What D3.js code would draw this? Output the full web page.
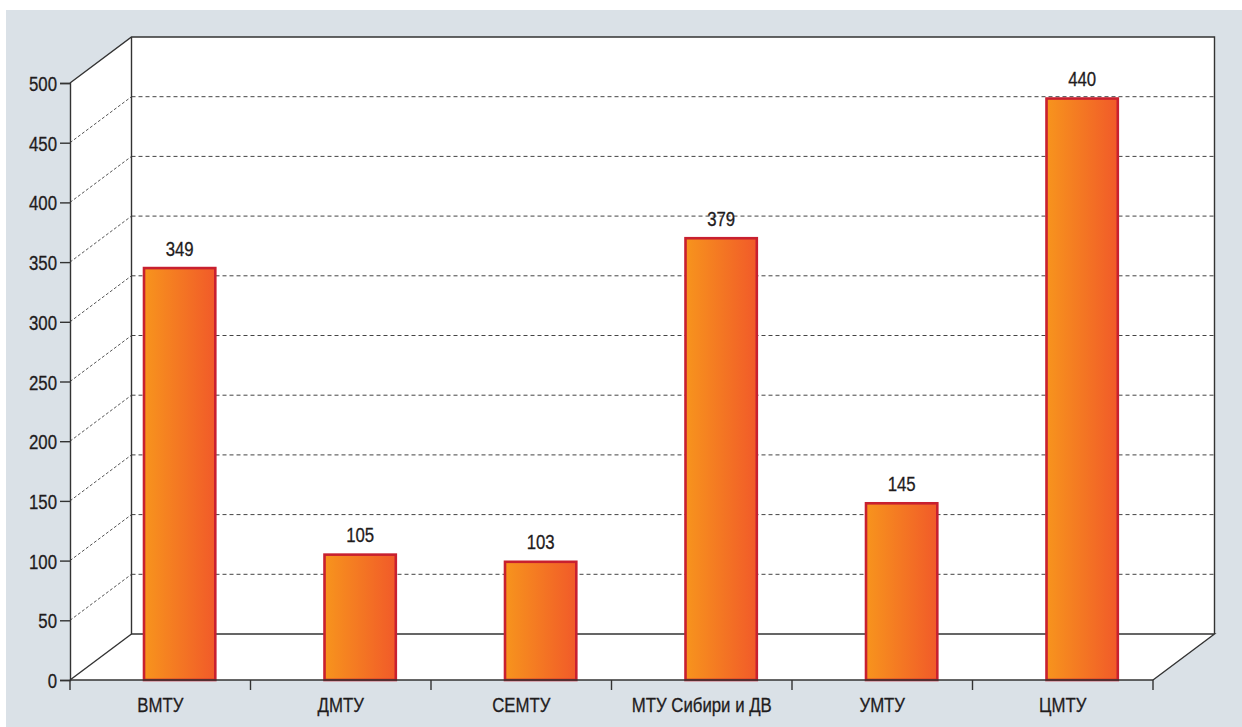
<!DOCTYPE html>
<html><head><meta charset="utf-8">
<script src="https://cdn.jsdelivr.net/npm/d3@7"></script>
<style>
html,body{margin:0;padding:0;background:#fff;}
text{font-family:"Liberation Sans","Arial",sans-serif;fill:#1f1c1d;stroke:#1f1c1d;stroke-width:0.3px;}
</style></head>
<body><svg id="c" width="1242" height="727"></svg>
<script>
// Data
const categories = ["ВМТУ","ДМТУ","СЕМТУ","МТУ Сибири и ДВ","УМТУ","ЦМТУ"];
const barValues = [345,105,99,370,148,487];      // bar heights
const printedValues = [349,105,103,379,145,440]; // value labels as printed
const yTicks = [0,50,100,150,200,250,300,350,400,450,500];

const svg = d3.select("#c");
const W = 1242, H = 727;
const x0 = 70, x1 = 1153, yBot = 680, yTop = 83;
const dx = 61.5, dy = -46;
const SX = 0.8, FS = 21;

const y = d3.scaleLinear().domain([0,500]).range([yBot,yTop]);
const x = d3.scaleBand().domain(categories).range([x0,x1]).padding(0);
const bw = x.bandwidth();

// background
svg.append("rect").attr("x",6).attr("y",10).attr("width",W-6).attr("height",H-10).attr("fill","#dae1e7");

const defs = svg.append("defs");
const g = defs.append("linearGradient").attr("id","barGrad").attr("x1","0").attr("x2","1").attr("y1","0").attr("y2","0");
g.append("stop").attr("offset","0%").attr("stop-color","#f7941d");
g.append("stop").attr("offset","100%").attr("stop-color","#f15a29");

// walls
const line = d3.line();
svg.append("path").attr("d", line([[x0,y(500)],[x0+dx,y(500)+dy],[x0+dx,y(0)+dy],[x0,y(0)]])+"Z").attr("fill","#fff");
svg.append("path").attr("d", line([[x0+dx,y(500)+dy],[x1+dx,y(500)+dy],[x1+dx,y(0)+dy],[x0+dx,y(0)+dy]])+"Z").attr("fill","#fff");
svg.append("path").attr("d", line([[x0,y(0)],[x0+dx,y(0)+dy],[x1+dx,y(0)+dy],[x1,y(0)]])+"Z").attr("fill","#fff");

// gridlines
const grid = yTicks.filter(v => v>0 && v<500);
svg.append("g").selectAll("line").data(grid).join("line")
  .attr("x1",x0+dx).attr("x2",x1+dx).attr("y1",d=>y(d)+dy).attr("y2",d=>y(d)+dy)
  .attr("stroke","#444").attr("stroke-width",1).attr("stroke-dasharray","4,3");
svg.append("g").selectAll("line").data(grid).join("line")
  .attr("x1",x0).attr("x2",x0+dx).attr("y1",d=>y(d)).attr("y2",d=>y(d)+dy)
  .attr("stroke","#444").attr("stroke-width",0.9).attr("stroke-dasharray","3,2");

// wall edges
const edge = (pts)=>svg.append("path").attr("d",line(pts)).attr("fill","none").attr("stroke","#333").attr("stroke-width",1.4);
edge([[x0,y(500)],[x0+dx,y(500)+dy],[x1+dx,y(500)+dy],[x1+dx,y(0)+dy]]);
edge([[x0+dx,y(500)+dy],[x0+dx,y(0)+dy],[x1+dx,y(0)+dy],[x1,y(0)]]);
edge([[x0,y(0)],[x0+dx,y(0)+dy]]);

// bars
const data = categories.map((c,i)=>({c, v:barValues[i], p:printedValues[i]}));
const bx = d => x(d.c) + bw*0.41;
const bwid = bw*0.395;
svg.append("g").selectAll("rect").data(data).join("rect")
  .attr("x",bx).attr("width",bwid)
  .attr("y",d=>y(d.v)).attr("height",d=>y(0)-y(d.v))
  .attr("fill","url(#barGrad)").attr("stroke","#c8202f").attr("stroke-width",2.6);

svg.append("g").selectAll("text").data(data).join("text")
  .attr("transform",d=>`translate(${bx(d)+bwid/2},${y(d.v)-12.5}) scale(${SX},1)`)
  .attr("text-anchor","middle").attr("font-size",FS).text(d=>d.p);

// y axis
const ya = svg.append("g").attr("transform",`translate(${x0},0)`)
  .call(d3.axisLeft(y).tickValues(yTicks).tickSize(10).tickPadding(3).tickFormat(d3.format("d")));
ya.select(".domain").attr("stroke","#333").attr("stroke-width",1.4);
ya.selectAll(".tick line").attr("stroke","#333").attr("stroke-width",1.4);
ya.selectAll(".tick text").attr("font-size",FS).attr("font-family",null).attr("fill","#1f1c1d")
  .attr("dy","0.36em").attr("x",-13/SX).attr("transform",`scale(${SX},1)`);

// x axis
svg.append("line").attr("x1",x0).attr("x2",x1).attr("y1",y(0)).attr("y2",y(0)).attr("stroke","#333").attr("stroke-width",1.4);
const bounds = categories.map(c=>x(c)).concat([x1]);
svg.append("g").selectAll("line").data(bounds).join("line")
  .attr("x1",d=>d).attr("x2",d=>d).attr("y1",y(0)).attr("y2",y(0)+10)
  .attr("stroke","#333").attr("stroke-width",1.4);
svg.append("g").selectAll("text").data(categories).join("text")
  .attr("transform",d=>`translate(${x(d)+bw/2},712) scale(${SX},1)`)
  .attr("text-anchor","middle").attr("font-size",FS).text(d=>d);
</script></body></html>
